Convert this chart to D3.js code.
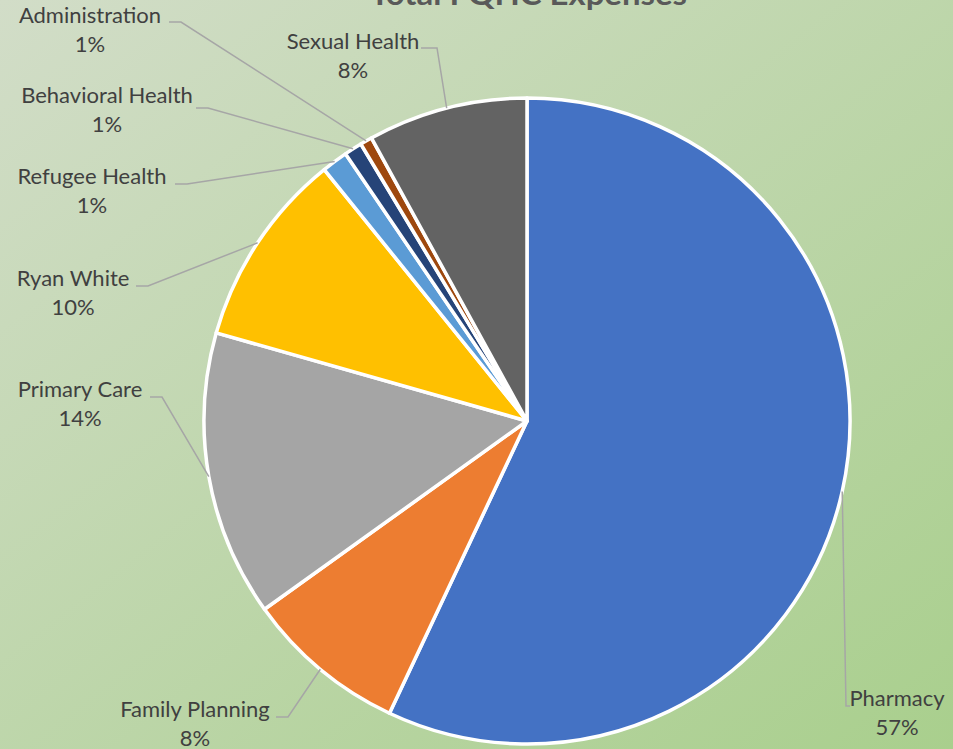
<!DOCTYPE html>
<html><head><meta charset="utf-8">
<script src="https://cdn.jsdelivr.net/npm/d3@7"></script>
<style>html,body{margin:0;padding:0;overflow:hidden;background:#c8dab9}</style>
</head><body>
<script>
const categories = ["Pharmacy","Family Planning","Primary Care","Ryan White","Refugee Health","Behavioral Health","Administration","Sexual Health"];
const values = [57.0, 8.1, 14.3, 9.8, 1.3, 0.9, 0.6, 8.0];
const pctLabels = ["57%","8%","14%","10%","1%","1%","1%","8%"];
const colors = ["#4472c4","#ed7d31","#a5a5a5","#ffc000","#5b9bd5","#264478","#9e480e","#636363"];
const title = "Total FQHC Expenses";
// label layout: text centre x, baseline of first line, elbow (end of leader near text)
const labelLayout = [
  {x:897, y:706, ex:846, ey:706, side:"r"},
  {x:195, y:717, ex:288, ey:717, side:"l"},
  {x:80,  y:397, ex:162, ey:397, side:"l"},
  {x:73,  y:286, ex:148, ey:286, side:"l"},
  {x:92,  y:184, ex:187, ey:184, side:"l"},
  {x:107, y:103, ex:208, ey:108, side:"l"},
  {x:90,  y:23,  ex:181, ey:22,  side:"l"},
  {x:353, y:49,  ex:437, ey:48,  side:"r2"}
];
const W = 953, H = 749, cx = 527, cy = 421, R = 323;
const svg = d3.select("body").append("svg").attr("width", W).attr("height", H);
const defs = svg.append("defs");
const g = defs.append("linearGradient").attr("id","bg").attr("x1","0").attr("y1","0").attr("x2","1").attr("y2","1");
g.append("stop").attr("offset","0").attr("stop-color","#d2ddc8");
g.append("stop").attr("offset","1").attr("stop-color","#a9cf8d");
svg.append("rect").attr("width",W).attr("height",H).attr("fill","url(#bg)");

svg.append("text").attr("x",528.5).attr("y",5).attr("text-anchor","middle")
  .attr("font-family","Lato, 'Open Sans', sans-serif").attr("font-weight","bold").attr("font-size",31)
  .attr("fill","#595959").attr("textLength",317).attr("lengthAdjust","spacingAndGlyphs").text(title);

const data = categories.map((c,i)=>({name:c, value:values[i], pct:pctLabels[i], color:colors[i], lay:labelLayout[i]}));
const pie = d3.pie().value(d=>d.value).sort(null);
const arcs = pie(data);
const arc = d3.arc().innerRadius(0).outerRadius(R);
const root = svg.append("g").attr("transform",`translate(${cx},${cy})`);
root.selectAll("path.slice").data(arcs).join("path").attr("class","slice")
  .attr("d",arc).attr("fill",d=>d.data.color).attr("stroke","#fff").attr("stroke-width",3.5).attr("stroke-linejoin","round");

// leader lines
arcs.forEach(a=>{
  const mid = (a.startAngle + a.endAngle)/2;
  const px = cx + R*Math.sin(mid), py = cy - R*Math.cos(mid);
  const L = a.data.lay;
  let pts;
  if (L.side === "l") pts = [[L.ex-12, L.ey],[L.ex, L.ey],[px,py]];
  else if (L.side === "r2") pts = [[L.ex-16, L.ey],[L.ex, L.ey],[px,py]];
  else pts = [[L.ex+4, L.ey],[L.ex, L.ey],[px,py]];
  svg.append("path").attr("d", d3.line()(pts)).attr("fill","none").attr("stroke","#a6a6a6").attr("stroke-width",1.5);
});

const lbl = svg.append("g").attr("font-family","Lato, 'Open Sans', sans-serif").attr("font-size",22).attr("fill","#404040").attr("text-anchor","middle");
data.forEach(d=>{
  const t = lbl.append("text").attr("x",d.lay.x).attr("y",d.lay.y);
  t.append("tspan").attr("x",d.lay.x).text(d.name);
  t.append("tspan").attr("x",d.lay.x).attr("dy",29).text(d.pct);
});
</script>
</body></html>
